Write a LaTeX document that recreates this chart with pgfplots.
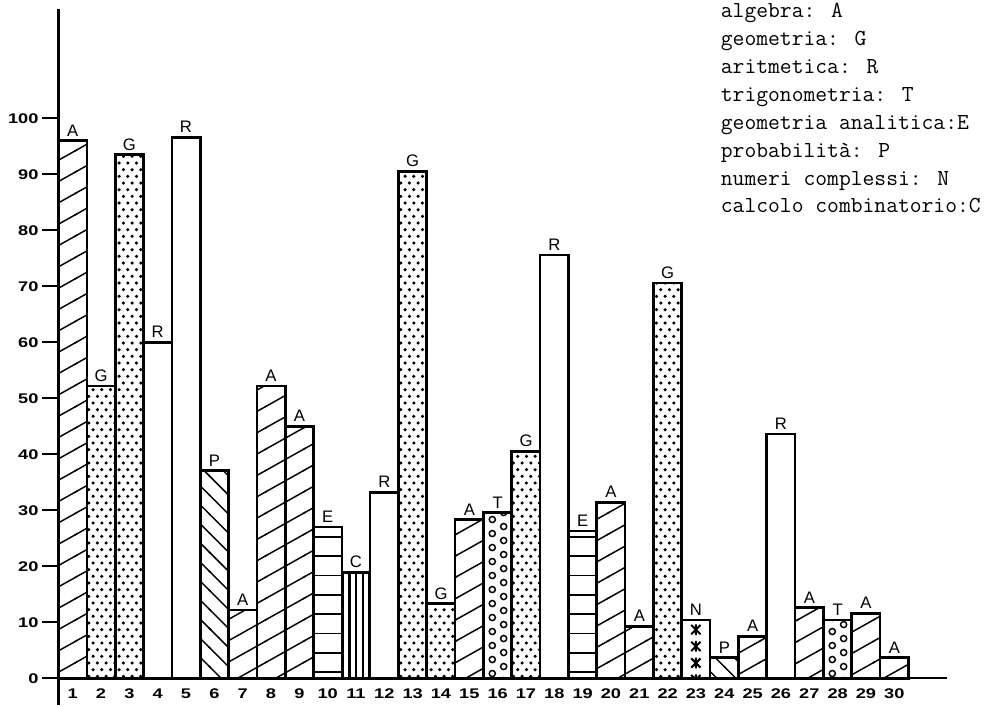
\documentclass[border=0pt]{standalone}
\usepackage{fontspec}
\setmainfont{Liberation Sans}
\newfontfamily\tickfont[FakeStretch=1.3]{Liberation Sans}
\usepackage{pgfplots}
\pgfplotsset{compat=1.18}
\usetikzlibrary{patterns}

% algebra: rising hatch (about 29 degrees)
\pgfdeclarepatternformonly{ahatch}{\pgfqpoint{-1pt}{-1pt}}{\pgfqpoint{29.5pt}{17pt}}{\pgfqpoint{28.5pt}{16pt}}{%
  \pgfsetlinewidth{1.1pt}%
  \pgfpathmoveto{\pgfqpoint{-1pt}{-0.561pt}}\pgfpathlineto{\pgfqpoint{29.5pt}{16.561pt}}%
  \pgfusepath{stroke}}
% probabilita: falling hatch (45 degrees)
\pgfdeclarepatternformonly{phatch}{\pgfqpoint{-1pt}{-1pt}}{\pgfqpoint{15.3pt}{15.3pt}}{\pgfqpoint{14.3pt}{14.3pt}}{%
  \pgfsetlinewidth{1.1pt}%
  \pgfpathmoveto{\pgfqpoint{-1pt}{15.3pt}}\pgfpathlineto{\pgfqpoint{15.3pt}{-1pt}}%
  \pgfusepath{stroke}}
% geometria analitica: horizontal lines
\pgfdeclarepatternformonly{ehatch}{\pgfqpoint{-1pt}{-1pt}}{\pgfqpoint{11pt}{15.5pt}}{\pgfqpoint{10pt}{14.5pt}}{%
  \pgfsetlinewidth{1.3pt}%
  \pgfpathmoveto{\pgfqpoint{-1pt}{10.2pt}}\pgfpathlineto{\pgfqpoint{11pt}{10.2pt}}%
  \pgfusepath{stroke}}
% calcolo combinatorio: vertical lines
\pgfdeclarepatternformonly{chatch}{\pgfqpoint{-1pt}{-1pt}}{\pgfqpoint{5.9pt}{11pt}}{\pgfqpoint{4.9pt}{10pt}}{%
  \pgfsetlinewidth{1.6pt}%
  \pgfpathmoveto{\pgfqpoint{2.45pt}{-1pt}}\pgfpathlineto{\pgfqpoint{2.45pt}{11pt}}%
  \pgfusepath{stroke}}
% geometria: dots
\pgfdeclarepatternformonly{gdots}{\pgfqpoint{-2pt}{-2pt}}{\pgfqpoint{8.5pt}{12pt}}{\pgfqpoint{6.5pt}{10pt}}{%
  \pgfpathcircle{\pgfqpoint{1.6pt}{1.5pt}}{1.3pt}%
  \pgfpathcircle{\pgfqpoint{4.85pt}{6.5pt}}{1.3pt}%
  \pgfusepath{fill}}
% trigonometria: circles
\pgfdeclarepatternformonly{tcircles}{\pgfqpoint{-3pt}{-3pt}}{\pgfqpoint{24.5pt}{13.5pt}}{\pgfqpoint{21.25pt}{10.5pt}}{%
  \pgfsetlinewidth{1.1pt}%
  \pgfpathcircle{\pgfqpoint{8pt}{2.6pt}}{2.3pt}%
  \pgfpathcircle{\pgfqpoint{16.5pt}{7.85pt}}{2.3pt}%
  \pgfusepath{stroke}}
% numeri complessi: crosses
\pgfdeclarepatternformonly{ncross}{\pgfqpoint{-1pt}{-1pt}}{\pgfqpoint{22.25pt}{13.5pt}}{\pgfqpoint{21.25pt}{12.5pt}}{%
  \pgfsetlinewidth{1.5pt}%
  \pgfpathmoveto{\pgfqpoint{8.4pt}{3pt}}\pgfpathlineto{\pgfqpoint{15.4pt}{10pt}}%
  \pgfpathmoveto{\pgfqpoint{8.4pt}{10pt}}\pgfpathlineto{\pgfqpoint{15.4pt}{3pt}}%
  \pgfpathmoveto{\pgfqpoint{11.9pt}{2.45pt}}\pgfpathlineto{\pgfqpoint{11.9pt}{10.55pt}}%
  \pgfusepath{stroke}}

\begin{document}
\begin{tikzpicture}
\begin{axis}[
  x=21.25pt, y=4.2pt,
  xmin=-0.082, xmax=31.86, ymin=0, ymax=119.5,
  clip=false,
  axis line style={draw=none},
  ytick={0,10,...,100},
  yticklabels={0,10,20,30,40,50,60,70,80,90,100},
  ytick pos=left,
  tick align=inside,
  major tick length=12pt,
  ytick style={black, line width=1.5pt},
  xtick={1,...,30},
  xticklabels={1,2,3,4,5,6,7,8,9,10,11,12,13,14,15,16,17,18,19,20,21,22,23,24,25,26,27,28,29,30},
  xtick style={draw=none},
  xtick pos=bottom,
  /pgf/number format/assume math mode=true,
  yticklabel style={font=\tickfont\bfseries\fontsize{10.5}{12}\selectfont, inner sep=2.5pt},
  xticklabel style={font=\tickfont\bfseries\fontsize{10.5}{12}\selectfont, yshift=-4.5pt},
  every axis plot/.append style={ybar, bar width=1, bar shift=0pt, draw=black, line width=2pt,
     nodes near coords style={font=\fontsize{12.5}{13}\selectfont, anchor=south, inner sep=2.4pt, black}},
]
% algebra
\addplot[pattern=ahatch, nodes near coords=A]
  coordinates {(1,96) (7,12.2) (8,52.2) (9,45) (15,28.3) (20,31.4) (21,9.3) (25,7.5) (27,12.6) (29,11.6) (30,3.7)};
% geometria
\addplot[pattern=gdots, nodes near coords=G]
  coordinates {(2,52.2) (3,93.5) (13,90.5) (14,13.3) (17,40.5) (22,70.6)};
% aritmetica
\addplot[fill=white, nodes near coords=R]
  coordinates {(4,60) (5,96.6) (12,33.2) (18,75.6) (26,43.6)};
% trigonometria
\addplot[pattern=tcircles, nodes near coords=T]
  coordinates {(16,29.6) (28,10.4)};
% geometria analitica
\addplot[pattern=ehatch, nodes near coords=E]
  coordinates {(10,27) (19,26.3)};
% probabilita
\addplot[pattern=phatch, nodes near coords=P]
  coordinates {(6,37.1) (24,3.7)};
% numeri complessi
\addplot[pattern=ncross, nodes near coords=N]
  coordinates {(23,10.4)};
% calcolo combinatorio
\addplot[pattern=chatch, nodes near coords=C]
  coordinates {(11,18.9)};

\draw[line width=1.8pt] (axis cs:0.5,-4.77) -- (axis cs:0.5,119.5);
\draw[line width=1.8pt] (axis cs:-0.082,0) -- (axis cs:31.86,0);

\foreach \t [count=\k from 0] in {algebra: A, geometria: G, aritmetica: R, trigonometria: T, geometria analitica:E, probabilità: P, numeri complessi: N, calcolo combinatorio:C}{
  \edef\temp{\noexpand\node[anchor=base west, inner sep=0pt, font=\noexpand\ttfamily\noexpand\addfontfeature{FakeBold=1}\noexpand\fontsize{17.2}{17}\noexpand\selectfont] at (axis cs:23.87,{118.0-4.987*\k}) {\t};}
  \temp
}

\coordinate (bbBL) at (axis cs:-1.565,-4.77);
\coordinate (bbTR) at (axis cs:33.66,121.13);
\end{axis}
\pgfresetboundingbox
\useasboundingbox (bbBL) rectangle (bbTR);
\end{tikzpicture}
\end{document}
